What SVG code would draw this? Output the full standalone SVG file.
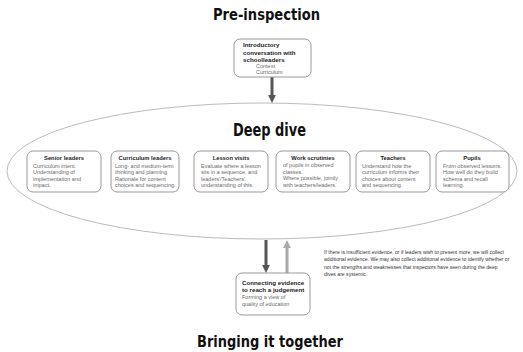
<svg xmlns="http://www.w3.org/2000/svg" width="523" height="352" viewBox="0 0 523 352">
<style>
.title{font-family:"DejaVu Sans",Verdana,sans-serif;font-weight:bold;fill:#111;text-anchor:middle}
.box{fill:#fff;stroke:#999;stroke-width:1}
.h{font-family:"Liberation Sans",Arial,sans-serif;font-weight:bold;font-size:5.8px;fill:#222;text-anchor:middle}
.hl{font-family:"Liberation Sans",Arial,sans-serif;font-weight:bold;font-size:6.2px;fill:#222}
.b{font-family:"Liberation Sans",Arial,sans-serif;font-size:5.5px;fill:#6a6a6a}
.note{font-family:"Liberation Sans",Arial,sans-serif;font-size:5.1px;fill:#333}
</style>
<defs>
<marker id="ad" viewBox="0 0 10 10" refX="5" refY="5" markerWidth="2.6" markerHeight="2.6" orient="auto"><path d="M0,0 L10,5 L0,10 z" fill="#555"/></marker>
<marker id="al" viewBox="0 0 10 10" refX="5" refY="5" markerWidth="2.6" markerHeight="2.6" orient="auto"><path d="M0,0 L10,5 L0,10 z" fill="#aaa"/></marker>
</defs>
<rect width="523" height="352" fill="#fff"/>
<text class="title" x="266.5" y="20" font-size="16" textLength="107" lengthAdjust="spacingAndGlyphs">Pre-inspection</text>
<g id="deepdive">
<ellipse cx="262" cy="171" rx="255" ry="68" fill="none" stroke="#bbb" stroke-width="1"/>
<text class="title" x="269.5" y="136" font-size="17" textLength="73" lengthAdjust="spacingAndGlyphs">Deep dive</text>
</g>
<g id="connectors">
<line x1="272" y1="77" x2="272" y2="99" stroke="#555" stroke-width="3" marker-end="url(#ad)"/>
<line x1="266" y1="240" x2="266" y2="269" stroke="#555" stroke-width="3" marker-end="url(#ad)"/>
<line x1="287" y1="273" x2="287" y2="244" stroke="#aaa" stroke-width="3" marker-end="url(#al)"/>
</g>
<g id="intro">
<rect class="box" x="234" y="39" width="77" height="38" rx="6"/>
<text class="hl" x="243" y="47">Introductory</text>
<text class="hl" x="243" y="54.5">conversation with</text>
<text class="hl" x="243" y="62">schoolleaders</text>
<text class="b" x="256" y="68">Context</text>
<text class="b" x="256" y="74">Curriculum</text>
</g>
<g id="senior">
<rect class="box" x="27" y="151" width="74" height="41" rx="6"/>
<text class="h" x="64" y="160">Senior leaders</text>
<text class="b" x="33" y="167.5">Curriculum intent.</text>
<text class="b" x="33" y="174">Understanding of</text>
<text class="b" x="33" y="180.5">implementation and</text>
<text class="b" x="33" y="187">impact.</text>
</g>
<g id="curriculum">
<rect class="box" x="111" y="151" width="68" height="41" rx="6"/>
<text class="h" x="145" y="160">Curriculum leaders</text>
<text class="b" x="115" y="167.5">Long- and medium-term</text>
<text class="b" x="115" y="174">thinking and planning.</text>
<text class="b" x="115" y="180.5">Rationale for content</text>
<text class="b" x="115" y="187">choices and sequencing.</text>
</g>
<g id="lesson">
<rect class="box" x="194" y="151" width="74" height="41" rx="6"/>
<text class="h" x="231" y="160">Lesson visits</text>
<text class="b" x="201" y="167.5">Evaluate where a lesson</text>
<text class="b" x="201" y="174">sits in a sequence, and</text>
<text class="b" x="201" y="180.5">leaders'/Teachers'</text>
<text class="b" x="201" y="187">understanding of this.</text>
</g>
<g id="work">
<rect class="box" x="276" y="151" width="74" height="41" rx="6"/>
<text class="h" x="313" y="160">Work scrutinies</text>
<text class="b" x="283" y="167">of pupils in observed</text>
<text class="b" x="283" y="173.5">classes.</text>
<text class="b" x="283" y="180">Where possible, jointly</text>
<text class="b" x="283" y="186.5">with teachers/leaders.</text>
</g>
<g id="teachers">
<rect class="box" x="356" y="151" width="74" height="41" rx="6"/>
<text class="h" x="393" y="160">Teachers</text>
<text class="b" x="362" y="167.5">Understand how the</text>
<text class="b" x="362" y="174">curriculum informs their</text>
<text class="b" x="362" y="180.5">choices about content</text>
<text class="b" x="362" y="187">and sequencing.</text>
</g>
<g id="pupils">
<rect class="box" x="436" y="151" width="73" height="41" rx="6"/>
<text class="h" x="472" y="160">Pupils</text>
<text class="b" x="443" y="167.5">From observed lessons.</text>
<text class="b" x="443" y="174">How well do they build</text>
<text class="b" x="443" y="180.5">schema and recall</text>
<text class="b" x="443" y="187">learning.</text>
</g>
<g id="connecting">
<rect class="box" x="236" y="273" width="74" height="42" rx="6"/>
<text class="hl" x="242" y="285">Connecting evidence</text>
<text class="hl" x="242" y="292">to reach a judgement</text>
<text class="b" x="242" y="299">Forming a view of</text>
<text class="b" x="242" y="305.5">quality of education</text>
</g>
<g id="note">
<text class="note" x="324" y="253.5">If there is insufficient evidence, or if leaders wish to present more, we will collect</text>
<text class="note" x="324" y="261">additional evidence. We may also collect additional evidence to identify whether or</text>
<text class="note" x="324" y="268.5">not the strengths and weaknesses that inspectors have seen during the deep</text>
<text class="note" x="324" y="276">dives are systemic.</text>
</g>
<text class="title" x="270" y="347" font-size="16" textLength="146" lengthAdjust="spacingAndGlyphs">Bringing it together</text>
</svg>
